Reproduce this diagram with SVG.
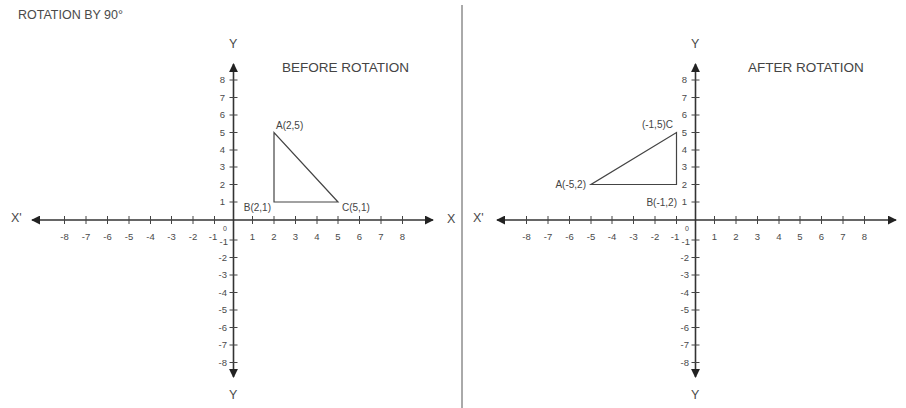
<svg xmlns="http://www.w3.org/2000/svg" width="906" height="408" viewBox="0 0 906 408">
<style>
text{font-family:"Liberation Sans",Arial,sans-serif;fill:#4a4a4a}
.t{font-size:12.5px}
.h{font-size:13.5px;fill:#444}
.n{font-size:9.5px;text-anchor:middle}
.ny{font-size:9.5px;text-anchor:end}
.p{font-size:10px;fill:#444}
.ax{stroke:#333;stroke-width:1.6;fill:none}
.tk{stroke:#444;stroke-width:1;fill:none}
.tri{stroke:#444;stroke-width:1.2;fill:none}
.div{stroke:#555;stroke-width:1}
</style>
<defs>
<marker id="ah" viewBox="0 0 10 10" refX="9" refY="5" markerWidth="9" markerHeight="9" markerUnits="userSpaceOnUse" orient="auto-start-reverse">
<path d="M0,0 L10,5 L0,10 Z" fill="#222"/>
</marker>
</defs>
<rect width="906" height="408" fill="#fff"/>
<g id="title"><text class="t" x="18" y="19">ROTATION BY 90°</text></g>
<line class="div" x1="462" y1="5" x2="462" y2="408"/>

<g id="left-graph">
<g id="left-axes">
<path class="ax" d="M32,220 H433" marker-start="url(#ah)" marker-end="url(#ah)"/>
<path class="ax" d="M233.5,64 V377" marker-start="url(#ah)" marker-end="url(#ah)"/>
<path class="tk" d="M252.5,216v8M274,216v8M295.5,216v8M317,216v8M338,216v8M359.5,216v8M381,216v8M402.5,216v8M214.5,216v8M193,216v8M171.5,216v8M150.5,216v8M129,216v8M107.5,216v8M86,216v8M64.5,216v8"/>
<path class="tk" d="M229.5,202h8M229.5,184.5h8M229.5,167h8M229.5,150h8M229.5,132.5h8M229.5,115h8M229.5,97.5h8M229.5,80h8M229.5,240h8M229.5,257.5h8M229.5,275h8M229.5,292.5h8M229.5,310h8M229.5,327.5h8M229.5,345h8M229.5,362.5h8"/>
</g>
<g id="left-labels">
<text class="t" x="11" y="222">X'</text>
<text class="t" x="447" y="223">X</text>
<text class="t" x="229" y="48">Y</text>
<text class="t" x="229" y="399">Y</text>
<text class="n" x="252.5" y="240">1</text><text class="n" x="274" y="240">2</text><text class="n" x="295.5" y="240">3</text><text class="n" x="317" y="240">4</text><text class="n" x="338" y="240">5</text><text class="n" x="359.5" y="240">6</text><text class="n" x="381" y="240">7</text><text class="n" x="402.5" y="240">8</text>
<text class="n" x="213" y="240">-1</text><text class="n" x="193" y="240">-2</text><text class="n" x="171.5" y="240">-3</text><text class="n" x="150.5" y="240">-4</text><text class="n" x="129" y="240">-5</text><text class="n" x="107.5" y="240">-6</text><text class="n" x="86" y="240">-7</text><text class="n" x="64.5" y="240">-8</text>
<text class="ny" x="225" y="205">1</text><text class="ny" x="225" y="187.5">2</text><text class="ny" x="225" y="170">3</text><text class="ny" x="225" y="153">4</text><text class="ny" x="225" y="135.5">5</text><text class="ny" x="225" y="118">6</text><text class="ny" x="225" y="100.5">7</text><text class="ny" x="225" y="83">8</text>
<text class="n" x="225" y="231" style="font-size:7px">0</text>
<text class="ny" x="228" y="245">-1</text><text class="ny" x="227" y="261">-2</text><text class="ny" x="227" y="278">-3</text><text class="ny" x="227" y="295.5">-4</text><text class="ny" x="227" y="313">-5</text><text class="ny" x="227" y="330.5">-6</text><text class="ny" x="227" y="348">-7</text><text class="ny" x="227" y="365.5">-8</text>
<text class="h" x="282" y="72">BEFORE ROTATION</text>
</g>
<g id="left-triangle">
<path class="tri" d="M274,132.5 L274,202 L338,202 Z"/>
<text class="p" x="276" y="129">A(2,5)</text>
<text class="p" x="271" y="211" text-anchor="end">B(2,1)</text>
<text class="p" x="342" y="211">C(5,1)</text>
</g>
</g>

<g id="right-graph">
<g id="right-axes">
<path class="ax" d="M497,220 H896" marker-start="url(#ah)" marker-end="url(#ah)"/>
<path class="ax" d="M695.5,64 V377" marker-start="url(#ah)" marker-end="url(#ah)"/>
<path class="tk" d="M714.5,216v8M736,216v8M757.5,216v8M779,216v8M800,216v8M821.5,216v8M843,216v8M864.5,216v8M676.5,216v8M655,216v8M633.5,216v8M612,216v8M591,216v8M569.5,216v8M548,216v8M526.5,216v8"/>
<path class="tk" d="M691.5,202h8M691.5,184.5h8M691.5,167h8M691.5,150h8M691.5,132.5h8M691.5,115h8M691.5,97.5h8M691.5,80h8M691.5,240h8M691.5,257.5h8M691.5,275h8M691.5,292.5h8M691.5,310h8M691.5,327.5h8M691.5,345h8M691.5,362.5h8"/>
</g>
<g id="right-labels">
<text class="t" x="473" y="222">X'</text>
<text class="t" x="691" y="48">Y</text>
<text class="t" x="691" y="399">Y</text>
<text class="n" x="714.5" y="240">1</text><text class="n" x="736" y="240">2</text><text class="n" x="757.5" y="240">3</text><text class="n" x="779" y="240">4</text><text class="n" x="800" y="240">5</text><text class="n" x="821.5" y="240">6</text><text class="n" x="843" y="240">7</text><text class="n" x="864.5" y="240">8</text>
<text class="n" x="675" y="240">-1</text><text class="n" x="655" y="240">-2</text><text class="n" x="633.5" y="240">-3</text><text class="n" x="612" y="240">-4</text><text class="n" x="591" y="240">-5</text><text class="n" x="569.5" y="240">-6</text><text class="n" x="548" y="240">-7</text><text class="n" x="526.5" y="240">-8</text>
<text class="ny" x="687" y="205">1</text><text class="ny" x="687" y="187.5">2</text><text class="ny" x="687" y="170">3</text><text class="ny" x="687" y="153">4</text><text class="ny" x="687" y="135.5">5</text><text class="ny" x="687" y="118">6</text><text class="ny" x="687" y="100.5">7</text><text class="ny" x="687" y="83">8</text>
<text class="n" x="687" y="231" style="font-size:7px">0</text>
<text class="ny" x="690" y="245">-1</text><text class="ny" x="689" y="261">-2</text><text class="ny" x="689" y="278">-3</text><text class="ny" x="689" y="295.5">-4</text><text class="ny" x="689" y="313">-5</text><text class="ny" x="689" y="330.5">-6</text><text class="ny" x="689" y="348">-7</text><text class="ny" x="689" y="365.5">-8</text>
<text class="h" x="748" y="72">AFTER ROTATION</text>
</g>
<g id="right-triangle">
<path class="tri" d="M676.5,132.5 L676.5,184.5 L591,184.5 Z"/>
<text class="p" x="673" y="128" text-anchor="end">(-1,5)C</text>
<text class="p" x="586" y="188" text-anchor="end">A(-5,2)</text>
<text class="p" x="677" y="206" text-anchor="end">B(-1,2)</text>
</g>
</g>
</svg>
